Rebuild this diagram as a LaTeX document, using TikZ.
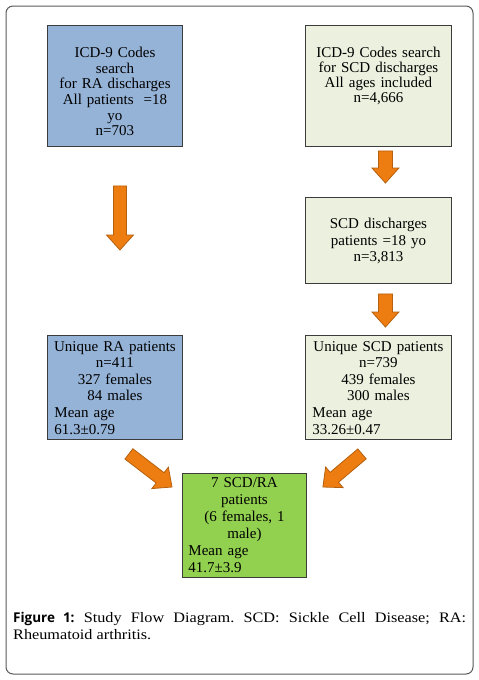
\documentclass[tikz,border=0pt]{standalone}
\usepackage{fontspec}
\setmainfont{Liberation Serif}
\newfontfamily\capfont[FakeStretch=1.12]{Liberation Serif}
\newfontfamily\figfont{Open Sans}
\usetikzlibrary{calc}
\definecolor{raBlue}{HTML}{95B3D7}
\definecolor{scdGreen}{HTML}{EBF1DE}
\definecolor{bothGreen}{HTML}{92D050}
\definecolor{arrFill}{HTML}{EE7D11}
\definecolor{arrEdge}{HTML}{B5600E}
\definecolor{boxEdge}{HTML}{3C3C3C}

% block arrow from tail #2 to tip #3, #1 = half shaft width
\newcommand{\blockarrow}[3][7]{%
  \coordinate (headbase) at ($(#3)!15pt!(#2)$);
  \filldraw[fatarrow] ($(#2)!#1pt!-90:(#3)$) -- ($(headbase)!#1pt!-90:(#3)$)
    -- ($(headbase)!13.5pt!-90:(#3)$) -- (#3) -- ($(headbase)!13.5pt!90:(#3)$)
    -- ($(headbase)!#1pt!90:(#3)$) -- ($(#2)!#1pt!90:(#3)$) -- cycle;
}

\begin{document}
\begin{tikzpicture}[x=1pt,y=1pt,
  box/.style={draw=boxEdge,line width=0.9pt,inner ysep=0pt,inner xsep=7pt,
    align=center,anchor=north west,font=\fontsize{15}{16.6}\selectfont},
  fatarrow/.style={fill=arrFill,draw=arrEdge,line width=0.8pt,line join=miter}]

  \useasboundingbox (0,0) rectangle (479,-680);
  \draw[boxEdge!85,line width=1pt,rounded corners=7pt] (6,-6) rectangle (473,-674);

  % top row
  \node[box,fill=raBlue,text width=121pt,text height=32pt,text depth=89pt,
    font=\fontsize{15}{15.7}\selectfont] (raicd) at (47,-25)
    {ICD-9 Codes\\ search\\ for RA discharges\\ All patients~ =18\\ yo\\ n=703};
  \node[box,fill=scdGreen,text width=132pt,text height=32pt,text depth=89pt,
    font=\fontsize{15}{15}\selectfont] (scdicd) at (305,-25)
    {ICD-9 Codes search\\ for SCD discharges\\ All ages included\\ n=4,666};

  % right column
  \node[box,fill=scdGreen,text width=132pt,text height=31.3pt,text depth=54.7pt]
    (scddis) at (305,-197)
    {SCD discharges\\ patients =18 yo\\ n=3,813};

  % unique patients
  \node[box,fill=raBlue,inner xsep=5pt,text width=125pt,text height=15.7pt,
    text depth=88.3pt] (rauniq) at (47,-335)
    {Unique RA patients\\ n=411\\ 327 females\\ 84 males\\
     \makebox[\linewidth][l]{\hspace{2pt}Mean age}\\
     \makebox[\linewidth][l]{\hspace{2pt}61.3±0.79}};
  \node[box,fill=scdGreen,text width=132pt,text height=15.7pt,text depth=88.3pt]
    (scduniq) at (305,-335)
    {Unique SCD patients\\ n=739\\ 439 females\\ 300 males\\
     \makebox[\linewidth][l]{Mean age}\\ \makebox[\linewidth][l]{33.26±0.47}};

  % overlap
  \node[box,fill=bothGreen,inner xsep=6pt,text width=112pt,text height=13.7pt,
    text depth=90.3pt,font=\fontsize{15}{17}\selectfont] (both) at (182,-473)
    {7 SCD/RA\\ patients\\ (6 females, 1\\ male)\\
     \makebox[\linewidth][l]{Mean age}\\ \makebox[\linewidth][l]{41.7±3.9}};

  % arrows
  \coordinate (t1) at ($(scdicd.south)+(7,-4)$);
  \coordinate (h1) at ($(scddis.north)+(7,14)$);
  \coordinate (t2) at ($(scddis.south)+(7,-10)$);
  \coordinate (h2) at ($(scduniq.north)+(7,8)$);
  \coordinate (t3) at ($(raicd.south)+(5,-39)$);
  \coordinate (h3) at ($(rauniq.north)+(5,85)$);
  \coordinate (t4) at ($(rauniq.south east)+(-54,-14)$);
  \coordinate (h4) at ($(both.north west)+(-10,-14)$);
  \coordinate (t5) at ($(scduniq.south west)+(57,-14)$);
  \coordinate (h5) at ($(both.north east)+(16,-14)$);
  \blockarrow{t1}{h1}
  \blockarrow{t2}{h2}
  \blockarrow[6.5]{t3}{h3}
  \blockarrow[6.5]{t4}{h4}
  \blockarrow[6.5]{t5}{h5}

  % caption
  \node[anchor=base west,inner sep=0pt,text width=453pt,align=justify,
    font=\capfont\fontsize{14.5}{16.7}\selectfont\frenchspacing] (caption) at (13,-622.7)
    {{\figfont\fontseries{sb}\selectfont\fontsize{13.5}{16.7}\selectfont Figure 1:} Study Flow Diagram. SCD: Sickle Cell Disease; RA: Rheumatoid arthritis.};
\end{tikzpicture}
\end{document}
